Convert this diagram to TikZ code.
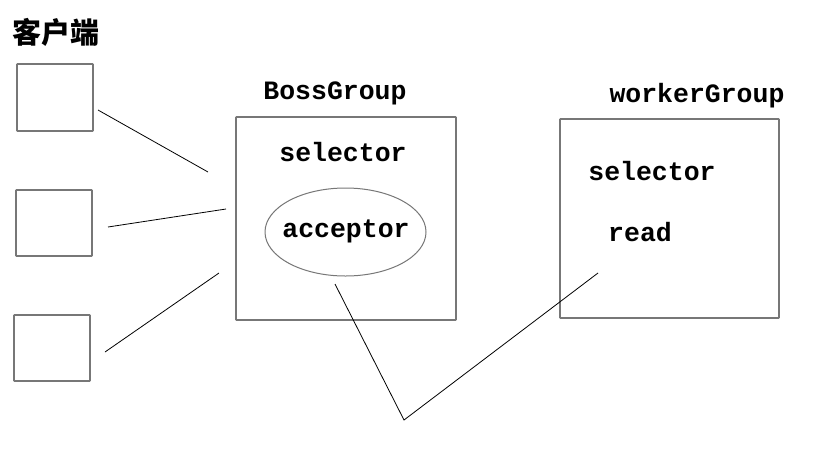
\documentclass[tikz,border=0pt]{standalone}
\usepackage{fontspec}
\setmainfont{Liberation Mono}
\newfontfamily\cjk{Noto Sans CJK SC}
\usetikzlibrary{shapes.geometric}
\definecolor{boxgray}{HTML}{777777}
\begin{document}
\begin{tikzpicture}[x=1pt,y=-1pt,
  cbox/.style={draw=boxgray,line width=1.6pt,inner sep=0pt,rounded corners=0.5pt},
  link/.style={draw=black,line width=0.8pt},
  lbl/.style={anchor=base,inner sep=0pt,font=\fontsize{26.5}{30}\selectfont\bfseries}]
\useasboundingbox (0,0) rectangle (813,456);
\fill[white] (0,0) rectangle (813,456);
% title
\node[inner sep=0pt,font=\cjk\fontsize{29}{32}\selectfont\bfseries] (title) at (56,32) {客户端};
% client boxes
\node[cbox,minimum width=76pt,minimum height=67pt] (c1) at (55,97.5) {};
\node[cbox,minimum width=76pt,minimum height=66pt] (c2) at (54,223) {};
\node[cbox,minimum width=76pt,minimum height=66pt] (c3) at (52,348) {};
% group boxes
\node[cbox,minimum width=220pt,minimum height=203pt] (boss) at (346,218.5) {};
\node[cbox,minimum width=219pt,minimum height=199pt] (worker) at (669.5,218.5) {};
\node[draw=boxgray,line width=1pt,ellipse,minimum width=161pt,minimum height=88pt,inner sep=0pt] (acc) at (345.5,232) {};
% labels
\node[lbl] (bossl) at (335,99) {BossGroup};
\node[lbl] (workl) at (697,102) {workerGroup};
\node[lbl] (sel1) at (343,161) {selector};
\node[lbl] (accl) at (346,237) {acceptor};
\node[lbl] (sel2) at (652,180) {selector};
\node[lbl] (readl) at (640,241) {read};
% connector endpoints
\coordinate (a1) at (98,110);
\coordinate (b1) at (208,172);
\coordinate (a2) at (108,227);
\coordinate (b2) at (226,209);
\coordinate (a3) at (105,352);
\coordinate (b3) at (219,273);
\coordinate (p1) at (335,284);
\coordinate (v) at (404,420);
\coordinate (p2) at (598,273);
\draw[link] (a1) -- (b1);
\draw[link] (a2) -- (b2);
\draw[link] (a3) -- (b3);
\draw[link] (p1) -- (v) -- (p2);
\end{tikzpicture}
\end{document}
